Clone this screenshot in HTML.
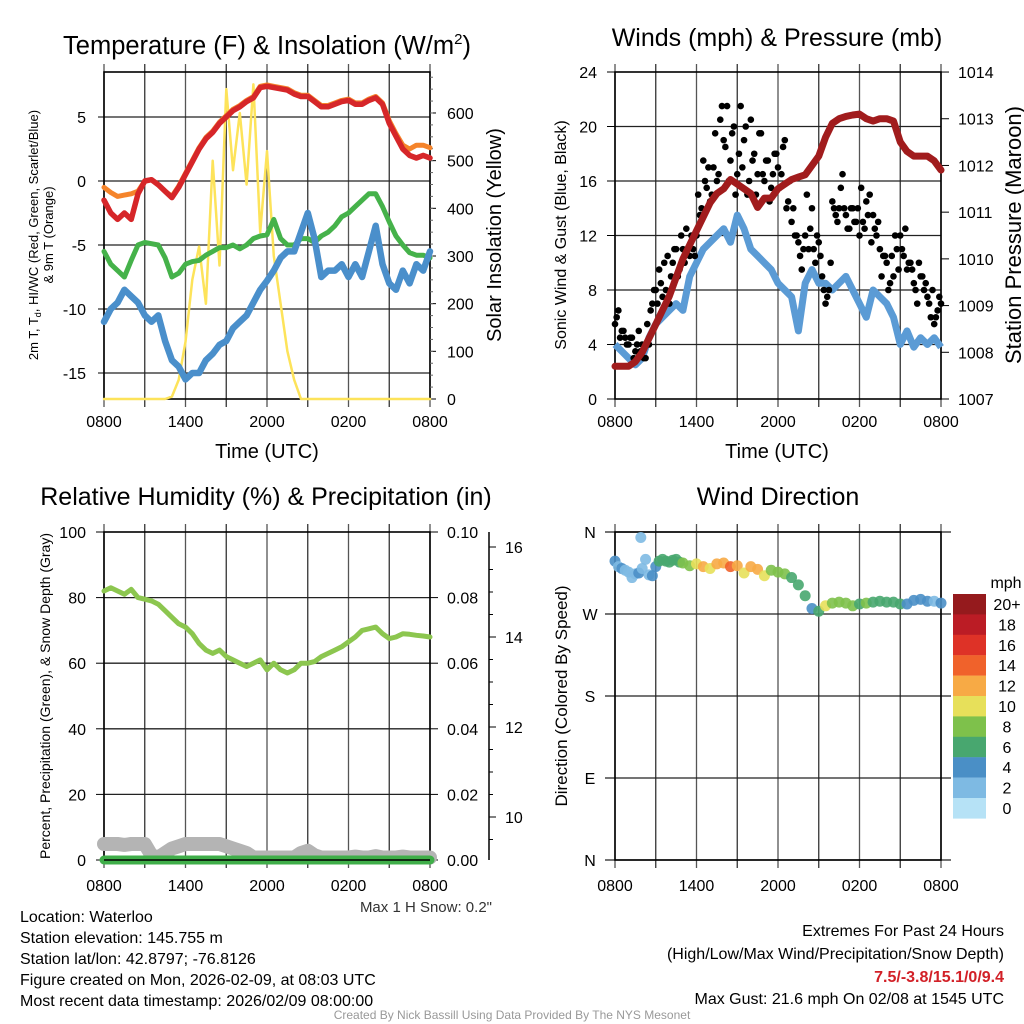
<!DOCTYPE html>
<html><head><meta charset="utf-8"><style>
body{margin:0;background:#fff;}
svg{display:block;font-family:"Liberation Sans",Arial,sans-serif;}
</style></head><body>
<svg id="s" width="1024" height="1024" viewBox="0 0 1024 1024"></svg>
<script>
// ---------- DATA ----------
const hours = [0,0.5,1,1.5,2,2.5,3,3.5,4,4.5,5,5.5,6,6.5,7,7.5,8,8.5,9,9.5,10,10.5,11,11.5,12,12.5,13,13.5,14,14.5,15,15.5,16,16.5,17,17.5,18,18.5,19,19.5,20,20.5,21,21.5,22,22.5,23,23.5,24];
const xTickLabels = ["0800","1400","2000","0200","0800"];
const tempRed = [-1.5,-2.5,-3,-2.5,-3,-1,0,0.1,-0.3,-0.8,-1.3,-0.5,0.5,1.5,2.5,3.3,3.8,4.5,5,5.5,5.8,6.2,6.5,7.3,7.4,7.3,7.2,7.1,6.8,6.6,6.6,6.2,5.8,5.8,6,6.2,6.3,6,6,6.3,6.5,6,4.5,3.5,2.5,2,1.8,2,1.8];
const tempOrange = [-0.5,-0.9,-1.2,-1.1,-1,-0.8,0,0.1,-0.3,-0.8,-1.2,-0.4,0.6,1.6,2.6,3.4,3.9,4.6,5.1,5.6,5.9,6.3,6.6,7.4,7.5,7.4,7.3,7.2,6.9,6.7,6.7,6.3,5.9,5.9,6.1,6.3,6.4,6.1,6.1,6.4,6.6,6.1,4.7,3.7,2.8,2.5,2.8,2.8,2.6];
const dewGreen = [-5.5,-6.5,-7,-7.5,-6.2,-5,-4.8,-4.9,-5,-6,-7.5,-7.2,-6.5,-6.3,-6.2,-5.8,-5.5,-5.2,-5.2,-5,-5.3,-5,-4.5,-4.3,-4.2,-3,-4.5,-5,-5,-4.5,-4.5,-4.8,-4.3,-4,-3.5,-2.8,-2.5,-2,-1.5,-1,-1,-2,-3.2,-4.3,-5,-5.6,-5.8,-5.8,-6];
const chillBlue = [-11,-10,-9.5,-8.5,-9,-9.5,-10.5,-11,-10.5,-12.5,-14,-14.5,-15.5,-15,-15,-14,-13.5,-12.8,-12.5,-11.5,-11,-10.5,-9.5,-8.5,-7.8,-7,-6,-5.5,-5.5,-4,-2.5,-4.5,-7.5,-7,-7,-6.5,-7.5,-6.5,-7.5,-5.5,-3.5,-6.5,-8,-8.5,-7,-8,-6.5,-7,-5.5];
const solar = [0,0,0,0,0,0,0,0,0,0,5,40,120,250,320,200,500,280,650,480,600,450,660,350,520,300,200,100,40,0,0,0,0,0,0,0,0,0,0,0,0,0,0,0,0,0,0,0,0];
const tempTicks = [5,0,-5,-10,-15];
const solarTicks = [0,100,200,300,400,500,600];

const windSpeed = [4,3.5,3,2.5,3,4.5,5.5,6,6.5,7,6.5,9,10,11,11.5,12,12.5,11.5,13.5,12.5,11,10.5,10,9.5,8.5,8,7.5,5,8.5,9.5,8.5,8.5,8,8.5,9,8,7,6,8,7.5,7,6,4,5,3.8,4.5,4,4.5,3.8];
const pressure = [1007.7,1007.7,1007.7,1007.8,1008,1008.3,1008.6,1008.9,1009.2,1009.6,1010,1010.3,1010.6,1010.9,1011.2,1011.4,1011.5,1011.7,1011.6,1011.5,1011.4,1011.1,1011.3,1011.3,1011.5,1011.6,1011.7,1011.75,1011.8,1012,1012.2,1012.6,1012.9,1013.0,1013.05,1013.08,1013.1,1013.0,1012.95,1013.0,1013.0,1012.95,1012.5,1012.3,1012.2,1012.2,1012.2,1012.1,1011.9];
const gustA = [5.5,6.5,5,4.5,4,4.5,3.5,5,4,3,4,7,8,9.5,7.5,8,7,10,11,9.5,11,12.5,10.5,11,12,13.5,17.5,15.5,14.5,17,16,20.5,19,21.5,17.5,20,16.5,21.5,19,15,20.5,18,16.5,19.5,16,17.5,15.5,18,17,16.5,19,14.5,13,12,11.5,9.5,12,11,14,10,11.5,9,7,8,14.5,13.5,14,16.5,13.5,12.5,14,13,12,13,14.5,15,13.5,12,11,10.5,10,8.5,9,11,12,10.5,9.5,10,8.5,7,9,8,7.5,6,5.5,6.5,7];
const gustB = [6,4.5,5,4,4.5,3,4,3.5,3,5.5,6.5,8,7,8.5,10,10.5,9,11,9,12,10,11,12,10.5,15,14,16,17,15,19.5,16.5,21.5,18.5,16,19.5,15,18,17,20,16,17.5,15,19.5,16.5,17.5,14.5,16.5,18,15.5,18.5,14,16,14,12,10.5,11,15,12.5,11,12,10.5,8,7.5,10,14,13,15.5,14,12.5,14,13,14,15.5,12.5,13.5,11.5,12.5,13,9,10.5,8,10.5,12,9.5,11,12.5,10,9.5,8,10,9,8.5,7,8,6,7.5];
const windTicks = [0,4,8,12,16,20,24];
const presTicks = [1007,1008,1009,1010,1011,1012,1013,1014];

const rh = [82,83,82,81,82.5,80,79.5,79,78,76,74,72,71,69,66,64,63,64,62,61,60,59,60,61,58,60,58,57,58,60,60,60.5,62,63,64,65,66.5,68,70,70.5,71,69,67.5,68,69,68.8,68.5,68.3,68];
const precip = [0,0,0,0,0,0,0,0,0,0,0,0,0,0,0,0,0,0,0,0,0,0,0,0,0,0,0,0,0,0,0,0,0,0,0,0,0,0,0,0,0,0,0,0,0,0,0,0,0];
const snowDepth = [9.4,9.4,9.4,9.38,9.4,9.4,9.4,9.15,9.1,9.2,9.3,9.35,9.4,9.4,9.4,9.4,9.4,9.4,9.35,9.3,9.25,9.2,9.1,9.1,9.1,9.1,9.1,9.1,9.1,9.2,9.25,9.15,9.1,9.1,9.1,9.1,9.1,9.12,9.1,9.1,9.13,9.1,9.1,9.1,9.12,9.1,9.1,9.1,9.1];
const rhTicks = [0,20,40,60,80,100];
const precipTicks = ["0.00","0.02","0.04","0.06","0.08","0.10"];
const snowTicks = [10,12,14,16];

const dirHours = [0,0.25,0.5,0.75,1,1.25,1.5,1.75,1.9,2,2.25,2.5,2.75,3,3.25,3.5,3.75,4,4.25,4.5,4.75,5,5.5,6,6.5,7,7.5,8,8.5,9,9.5,10,10.5,11,11.5,12,12.5,13,13.5,14,14.5,15,15.5,16,16.5,17,17.5,18,18.5,19,19.5,20,20.5,21,21.5,22,22.5,23,23.5,24];
const dirDeg = [328,322,320,318,316,310,314,315,354,320,330,313,312,322,328,330,328,327,329,330,327,326,323,325,322,320,325,326,322,323,315,322,319,312,318,316,314,310,302,290,276,273,279,282,283,282,279,281,282,283,284,283,283,281,281,285,286,284,284,282];
const dirSpeed = [4,3,4,2,2,2,2,4,2,2,2,3,4,4,6,6,6,6,7,6,6,8,9,10,12,10,13,12,14,12,11,13,12,10,9,8,8,7,7,6,4,6,10,8,8,8,8,7,8,6,6,6,6,6,4,4,4,4,2,4];
const dirLabels = ["N","W","S","E","N"];
const cbLabels = ["20+","18","16","14","12","10","8","6","4","2","0"];
const cbColors = ["#951a1d","#bb1c25","#de3227","#f0622b","#f7aa45","#e7e05a","#7ec14b","#48a76f","#4a8fc6","#7ebae3","#b6e2f6"];

// ---------- DRAW ----------
const S=document.getElementById('s');
const NS='http://www.w3.org/2000/svg';
function el(tag,attrs,parent){const e=document.createElementNS(NS,tag);for(const k in attrs)e.setAttribute(k,attrs[k]);(parent||S).appendChild(e);return e;}
function txt(x,y,s,size,anchor,parent,extra){const t=el('text',Object.assign({x:x,y:y,'font-size':size,'text-anchor':anchor||'middle',fill:'#000'},extra||{}),parent);t.textContent=s;return t;}
function grp(name){const g=el('g',{});return g;}
function path(pts){return pts.map((p,i)=>(i?'L':'M')+p[0].toFixed(1)+' '+p[1].toFixed(1)).join('');}

function frame(g,x0,x1,y0,y1,hLines,ext){
  for(let i=0;i<=8;i++){const x=x0+(x1-x0)*i/8;el('line',{x1:x,x2:x,y1:y0-8,y2:y1+8,stroke:i%2?'#333':'#555','stroke-width':1.3},g);}
  hLines.forEach(y=>el('line',{x1:x0-ext,x2:x1+ext,y1:y,y2:y,stroke:'#222','stroke-width':1.3},g));
  el('rect',{x:x0,y:y0,width:x1-x0,height:y1-y0,fill:'none',stroke:'#000','stroke-width':1.6},g);
}
function xLabels(g,x0,x1,y){const xl=grp('x-tick-labels');g.appendChild(xl);xTickLabels.forEach((s,i)=>txt(x0+(x1-x0)*i/4,y,s,16,'middle',xl));}

// Panel 1
(function(){
  const x0=104,x1=430,y0=72,y1=399;
  const g=grp('temperature-panel');
  const X=h=>x0+h/24*(x1-x0), Y=v=>181-v*12.8, YS=v=>399-v*0.4767;
  frame(g,x0,x1,y0,y1,tempTicks.map(Y),0);
  const ax=grp('left-axis');g.appendChild(ax);
  tempTicks.forEach(v=>{txt(86,Y(v)+6,String(v),16,'end',ax);el('line',{x1:x0-6,x2:x0,y1:Y(v),y2:Y(v),stroke:'#000'},ax);});
  const ra=grp('right-axis');g.appendChild(ra);
  solarTicks.forEach(v=>{txt(447,YS(v)+6,String(v),16,'start',ra);el('line',{x1:x1,x2:x1+6,y1:YS(v),y2:YS(v),stroke:'#000'},ra);});
  for(let v=25;v<680;v+=25)el('line',{x1:x1,x2:x1+3,y1:YS(v),y2:YS(v),stroke:'#666'},ra);
  const series=[[solar,'#fde35a',2.5,'solar-insolation-line',YS],[tempOrange,'#f5842b',5,'temperature-9m-line',Y],[tempRed,'#d62629',5.5,'temperature-2m-line',Y],[dewGreen,'#45b24a',5,'dewpoint-line',Y],[chillBlue,'#4a8fcb',6.5,'wind-chill-line',Y]];
  series.forEach(s=>{const p=el('path',{d:path(s[0].map((v,i)=>[X(hours[i]),s[4](v)])),fill:'none',stroke:s[1],'stroke-width':s[2],'stroke-linejoin':'round','stroke-linecap':'round'},g);});
  xLabels(g,x0,x1,427);
  const t=el('text',{x:267,y:54,'font-size':25.5,'text-anchor':'middle'},g);t.innerHTML='Temperature (F) &amp; Insolation (W/m<tspan dy="-10" font-size="15">2</tspan><tspan dy="10">)</tspan>';
  
  txt(267,458,'Time (UTC)',20,'middle',g);
  const yl=el('text',{transform:'translate(38,235) rotate(-90)','font-size':13,'text-anchor':'middle'},g);yl.innerHTML='2m T, T<tspan dy="3" font-size="9">d</tspan><tspan dy="-3">, HI/WC (Red, Green, Scarlet/Blue)</tspan>';
  
  txt(0,0,'& 9m T (Orange)',13,'middle',g,{transform:'translate(53,235) rotate(-90)'});
  const r=txt(0,0,'Solar Insolation (Yellow)',20,'middle',g,{transform:'translate(501,235) rotate(-90)'});
  
})();

// Panel 2
(function(){
  const x0=615,x1=941,y0=72,y1=399;
  const g=grp('wind-pressure-panel');
  const X=h=>x0+h/24*(x1-x0), Y=v=>399-v*13.625, YP=v=>399-(v-1007)*46.71;
  frame(g,x0,x1,y0,y1,windTicks.filter(v=>v>0&&v<24).map(Y),0);
  const ax=grp('left-axis');g.appendChild(ax);
  windTicks.forEach(v=>{txt(597,Y(v)+6,String(v),16,'end',ax);el('line',{x1:x0-8,x2:x0,y1:Y(v),y2:Y(v),stroke:'#000'},ax);});
  const ra=grp('right-axis');g.appendChild(ra);
  presTicks.forEach(v=>{txt(958,YP(v)+6,String(v),16,'start',ra);el('line',{x1:x1,x2:x1+8,y1:YP(v),y2:YP(v),stroke:'#000'},ra);});
  const wl=el('path',{d:path(windSpeed.map((v,i)=>[X(hours[i]),Y(v)])),fill:'none',stroke:'#5b9bd5','stroke-width':7,'stroke-linejoin':'round'},g);
  
  const gg=grp('gust-points');g.appendChild(gg);
  gustA.forEach((v,i)=>{const c=el('circle',{cx:X(i*0.25),cy:Y(v),r:3.3,fill:'#000'},gg);});
  gustB.forEach((v,i)=>{const c=el('circle',{cx:X(i*0.25+0.125),cy:Y(v),r:3.3,fill:'#000'},gg);});
  const pl=el('path',{d:path(pressure.map((v,i)=>[X(hours[i]),YP(v)])),fill:'none',stroke:'#a11c1d','stroke-width':7,'stroke-linejoin':'round','stroke-linecap':'round'},g);
  
  xLabels(g,x0,x1,427);
  const t=txt(777,46,'Winds (mph) & Pressure (mb)',25,'middle',g);
  txt(777,458,'Time (UTC)',20,'middle',g);
  txt(0,0,'Sonic Wind & Gust (Blue, Black)',16,'middle',g,{transform:'translate(566,235) rotate(-90)'});
  txt(0,0,'Station Pressure (Maroon)',22,'middle',g,{transform:'translate(1021,235) rotate(-90)'});
})();

// Panel 3
(function(){
  const x0=104,x1=430,y0=532,y1=860;
  const g=grp('humidity-panel');
  const X=h=>x0+h/24*(x1-x0), Y=v=>860-v*3.28, YS=v=>817-(v-10)*45, YPr=v=>860-v*3280;
  frame(g,x0,x1,y0,y1,rhTicks.filter(v=>v>0&&v<100).map(Y),0);
  const ax=grp('left-axis');g.appendChild(ax);
  rhTicks.forEach(v=>{txt(86,Y(v)+6,String(v),16,'end',ax);el('line',{x1:x0-8,x2:x0,y1:Y(v),y2:Y(v),stroke:'#000'},ax);});
  const ra=grp('precip-axis');g.appendChild(ra);
  precipTicks.forEach((s,i)=>{const y=Y(i*20);txt(447,y+6,s,16,'start',ra);el('line',{x1:x1,x2:x1+8,y1:y,y2:y,stroke:'#000'},ra);});
  const sa=grp('snow-depth-axis');g.appendChild(sa);
  el('line',{x1:489,x2:489,y1:532,y2:860,stroke:'#000','stroke-width':1.5},sa);
  snowTicks.forEach(v=>{txt(505,YS(v)+6,String(v),16,'start',sa);el('line',{x1:489,x2:496,y1:YS(v),y2:YS(v),stroke:'#000'},sa);});
  for(let v=9.5;v<16.4;v+=0.5)el('line',{x1:489,x2:493,y1:YS(v),y2:YS(v),stroke:'#000'},sa);
  const sd=el('path',{d:path(snowDepth.map((v,i)=>[X(hours[i]),YS(v)])),fill:'none',stroke:'#b4b4b4','stroke-width':14,'stroke-linejoin':'round','stroke-linecap':'round'},g);
  
  const pr=el('path',{d:path(precip.map((v,i)=>[X(hours[i]),YPr(v)])),fill:'none',stroke:'#3fae49','stroke-width':9,'stroke-linecap':'round'},g);
  
  el('line',{x1:x0,x2:x1,y1:y1,y2:y1,stroke:'#000','stroke-width':1.5},g);
  const rl=el('path',{d:path(rh.map((v,i)=>[X(hours[i]),Y(v)])),fill:'none',stroke:'#8cc64f','stroke-width':5,'stroke-linejoin':'round','stroke-linecap':'round'},g);
  
  xLabels(g,x0,x1,891);
  const t=txt(266,505,'Relative Humidity (%) & Precipitation (in)',25,'middle',g);
  txt(0,0,'Percent, Precipitation (Green), & Snow Depth (Gray)',14,'middle',g,{transform:'translate(50,696) rotate(-90)'});
  txt(492,912,'Max 1 H Snow: 0.2"',15,'end',g,{fill:'#333'});
})();

// Panel 4
(function(){
  const x0=615,x1=941,y0=532,y1=860;
  const g=grp('wind-direction-panel');
  const X=h=>x0+h/24*(x1-x0), Y=d=>860-d/360*328;
  frame(g,x0,x1,y0,y1,[0,90,180,270,360].map(Y),10);
  const ax=grp('direction-axis');g.appendChild(ax);
  dirLabels.forEach((s,i)=>txt(590,Y(360-i*90)+6,s,16,'middle',ax));
  const pg=grp('direction-points');g.appendChild(pg);
  dirDeg.forEach((d,i)=>{const b=Math.min(10,Math.floor(dirSpeed[i]/2));const c=el('circle',{cx:X(dirHours[i]),cy:Y(d),r:5.5,fill:cbColors[10-b],'fill-opacity':0.9},pg);});
  xLabels(g,x0,x1,891);
  const t=txt(778,505,'Wind Direction',25,'middle',g);
  txt(0,0,'Direction (Colored By Speed)',17,'middle',g,{transform:'translate(567,696) rotate(-90)'});
  const cb=grp('speed-colorbar');g.appendChild(cb);
  txt(1006,588,'mph',16,'middle',cb);
  cbColors.forEach((c,i)=>{const y=594+i*20.4;const r=el('rect',{x:953,y:y,width:33,height:20.6,fill:c},cb);txt(1007,y+16,cbLabels[i],16,'middle',cb);});
})();

// Footer text
(function(){
  const g=grp('station-info');
  ["Location: Waterloo","Station elevation: 145.755 m","Station lat/lon: 42.8797; -76.8126","Figure created on Mon, 2026-02-09, at 08:03 UTC","Most recent data timestamp: 2026/02/09 08:00:00"].forEach((s,i)=>txt(20,922+i*21,s,16,'start',g));
  const e=grp('extremes-summary');
  txt(1004,936,'Extremes For Past 24 Hours',16,'end',e);
  txt(1004,959,'(High/Low/Max Wind/Precipitation/Snow Depth)',16,'end',e);
  txt(1004,982,'7.5/-3.8/15.1/0/9.4',16,'end',e,{fill:'#d22027','font-weight':'bold'});
  txt(1004,1004,'Max Gust: 21.6 mph On 02/08 at 1545 UTC',16,'end',e);
  const c=txt(512,1019,'Created By Nick Bassill Using Data Provided By The NYS Mesonet',12,'middle',S,{fill:'#999'});
  
})();
</script>
</body></html>
